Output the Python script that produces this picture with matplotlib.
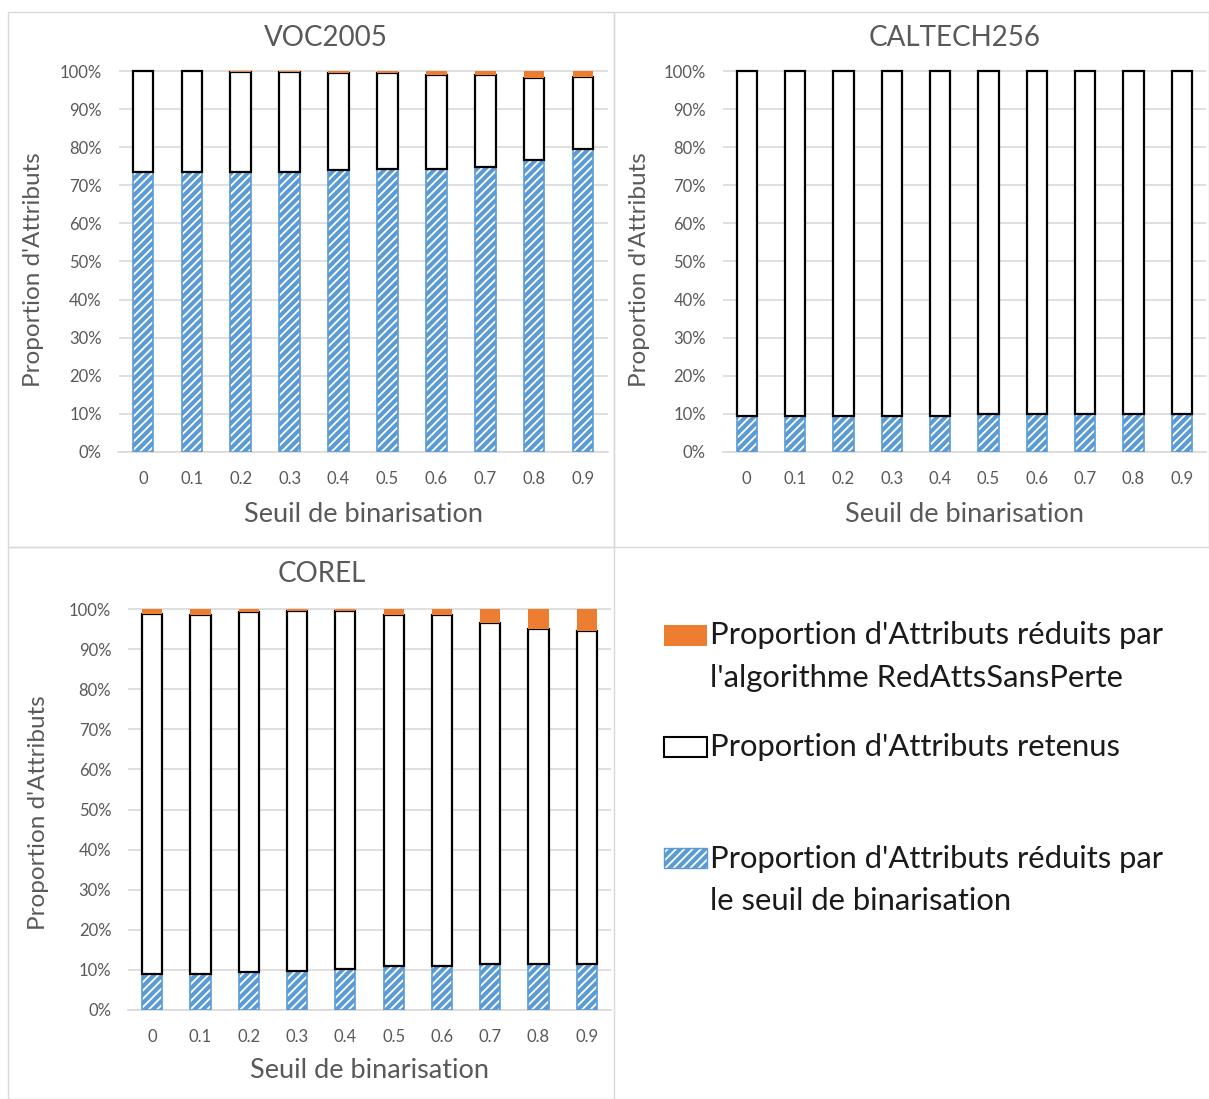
import matplotlib
matplotlib.use("Agg")
import matplotlib.pyplot as plt
from matplotlib.patches import Rectangle
from matplotlib.ticker import PercentFormatter
import numpy as np

plt.rcParams['font.family'] = ['Lato', 'DejaVu Sans']
plt.rcParams['hatch.linewidth'] = 1.3

seuils = ["0", "0.1", "0.2", "0.3", "0.4", "0.5", "0.6", "0.7", "0.8", "0.9"]

# proportions (fraction of attributes)
voc_seuil = [0.736, 0.736, 0.736, 0.736, 0.740, 0.742, 0.743, 0.749, 0.766, 0.794]
voc_algo = [0.000, 0.000, 0.002, 0.002, 0.004, 0.004, 0.010, 0.010, 0.019, 0.015]

cal_seuil = [0.095, 0.095, 0.095, 0.095, 0.095, 0.101, 0.101, 0.101, 0.101, 0.101]
cal_algo = [0.0, 0.0, 0.0, 0.0, 0.0, 0.0, 0.0, 0.0, 0.0, 0.0]

cor_seuil = [0.091, 0.091, 0.096, 0.098, 0.101, 0.110, 0.110, 0.114, 0.114, 0.114]
cor_algo = [0.012, 0.015, 0.007, 0.004, 0.004, 0.015, 0.015, 0.036, 0.051, 0.054]

titles = ["VOC2005", "CALTECH256", "COREL"]
xlabel = "Seuil de binarisation"
ylabel = "Proportion d'Attributs"
legend_lines = [
    ["Proportion d'Attributs réduits par", "l'algorithme RedAttsSansPerte"],
    ["Proportion d'Attributs retenus"],
    ["Proportion d'Attributs réduits par", "le seuil de binarisation"],
]

ORANGE = "#ed7d31"
BLUE = "#5b9bd5"
GRID = "#d9d9d9"
TXT = "#595959"

W, H = 1209, 1099
fig = plt.figure(figsize=(W / 100, H / 100), dpi=100)


def px_axes(left, right, top, bottom):
    return fig.add_axes([left / W, 1 - bottom / H, (right - left) / W, (bottom - top) / H])


def fx(x):
    return x / W


def fy(y):
    return 1 - y / H


# panel borders
for (l, r, t, b) in [(8, 614, 12, 547), (614, 1209, 12, 547), (8, 614, 547, 1099)]:
    fig.add_artist(Rectangle((fx(l), fy(b)), (r - l) / W, (b - t) / H,
                             transform=fig.transFigure, fill=False,
                             edgecolor=GRID, linewidth=1.0))

YTOP = 1.005


def draw(ax, seuil, algo, ylab_xy, xlab_xy):
    x = np.arange(len(seuils))
    seuil = np.array(seuil)
    algo = np.array(algo)
    retenus = 1 - seuil - algo
    wd = 0.42
    ax.bar(x, seuil, width=wd, color=BLUE, edgecolor="white", hatch="////",
           linewidth=0, zorder=3)
    ax.bar(x, seuil, width=wd, fill=False, edgecolor=BLUE, linewidth=1.2, zorder=3)
    ax.bar(x, retenus, bottom=seuil, width=wd, color="white", edgecolor="black",
           linewidth=1.6, zorder=4)
    ax.bar(x, algo, bottom=seuil + retenus, width=wd, color=ORANGE,
           edgecolor="none", linewidth=0, zorder=5)
    ax.set_xlim(-0.5, len(seuils) - 0.5)
    ax.set_ylim(0, YTOP)
    ax.set_yticks(np.arange(0, 1.01, 0.1))
    ax.yaxis.set_major_formatter(PercentFormatter(1.0, decimals=0))
    ax.set_xticks(x)
    ax.set_xticklabels(seuils)
    ax.grid(axis="y", color=GRID, linewidth=1.2, zorder=0)
    ax.set_axisbelow(True)
    for s in ["top", "right", "left"]:
        ax.spines[s].set_visible(False)
    ax.spines["bottom"].set_color(GRID)
    ax.spines["bottom"].set_linewidth(1.2)
    ax.tick_params(axis="both", length=0, colors=TXT, labelsize=12)
    ax.tick_params(axis="y", pad=12)
    ax.tick_params(axis="x", pad=13.5)
    ax.set_xlabel(xlabel, fontsize=19.5, color=TXT, va="center")
    ax.set_ylabel(ylabel, fontsize=17.5, color=TXT, va="center")
    ax.yaxis.set_label_coords(*ylab_xy)
    ax.xaxis.set_label_coords(*xlab_xy)


def top_of(bottom100, top100):
    span = bottom100 - top100
    return bottom100 - span * YTOP


ax1 = px_axes(118.5, 607.5, top_of(452, 71), 452)
ax2 = px_axes(722.6, 1206, top_of(452, 71), 452)
ax3 = px_axes(128, 611, top_of(1010, 609), 1010)

draw(ax1, voc_seuil, voc_algo, (-0.173, 0.475), (0.5, -0.1645))
draw(ax2, cal_seuil, cal_algo, (-0.171, 0.475), (0.5, -0.1645))
draw(ax3, cor_seuil, cor_algo, (-0.186, 0.489), (0.5, -0.151))

# titles
for (tx, ty), t in zip([(326, 38), (955, 38), (322, 574)], titles):
    fig.text(fx(tx), fy(ty), t, fontsize=20, color=TXT, ha="center", va="center")

# legend (manual, Excel-like)
lx0, lx1 = 664, 707
patches = [
    (625, 646, dict(facecolor=ORANGE, edgecolor="none", linewidth=0)),
    (737, 757, dict(facecolor="white", edgecolor="black", linewidth=1.5)),
    (848, 868, dict(facecolor=BLUE, edgecolor="white", hatch="////", linewidth=0)),
]
baselines = [[644, 687], [756], [868, 910]]
for (t, b, kw), bls, lines in zip(patches, baselines, legend_lines):
    fig.add_artist(Rectangle((fx(lx0), fy(b)), (lx1 - lx0) / W, (b - t) / H,
                             transform=fig.transFigure, **kw))
    if "hatch" in kw:
        fig.add_artist(Rectangle((fx(lx0), fy(b)), (lx1 - lx0) / W, (b - t) / H,
                                 transform=fig.transFigure, fill=False,
                                 edgecolor=BLUE, linewidth=1.0))
    for bl, line in zip(bls, lines):
        fig.text(fx(710), fy(bl), line, fontsize=22.3, color="#1a1a1a",
                 va="baseline", ha="left")

fig.savefig("out.png", dpi=100)
